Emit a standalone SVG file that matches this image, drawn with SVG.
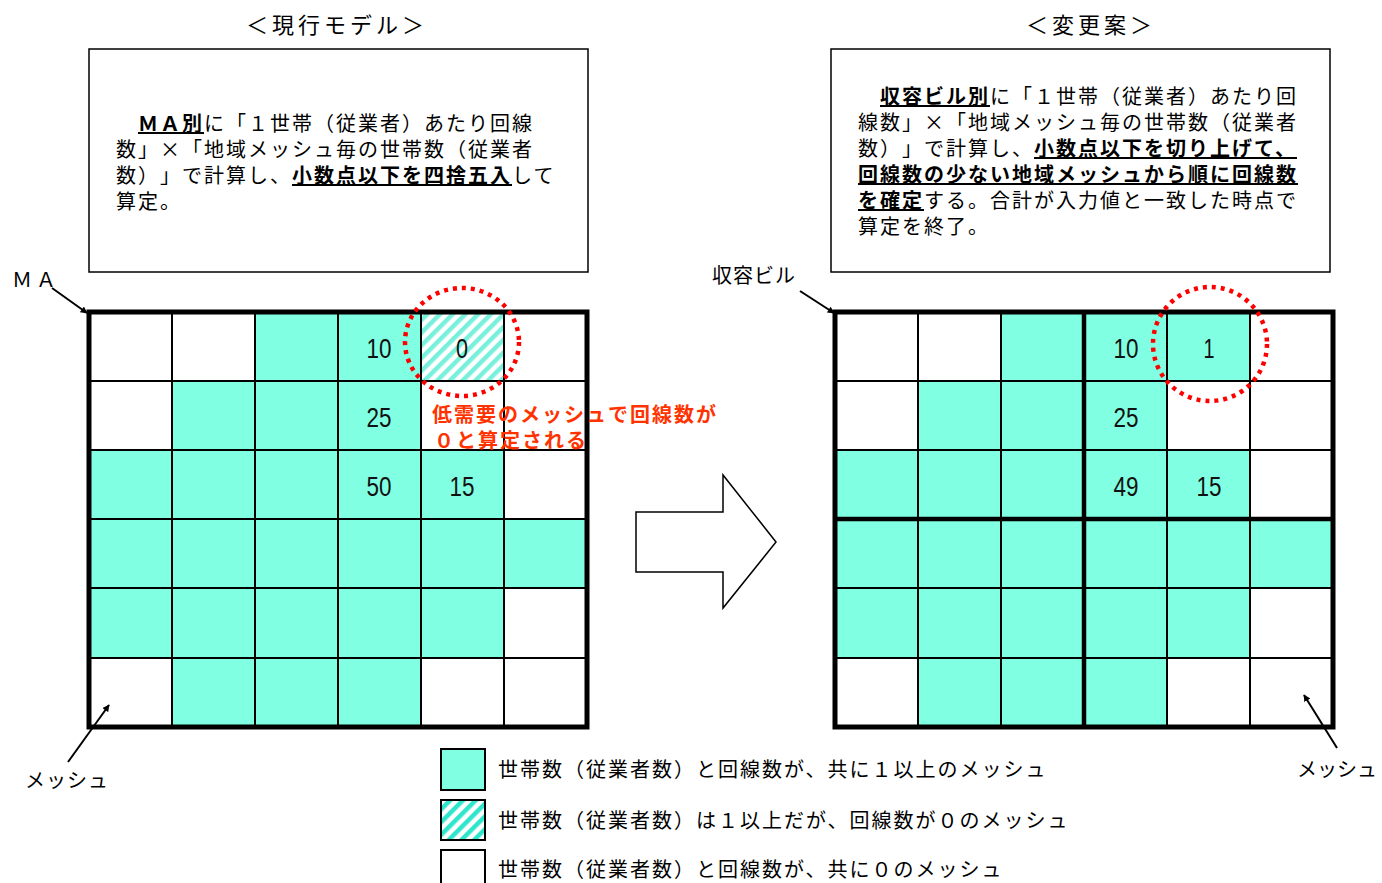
<svg xmlns="http://www.w3.org/2000/svg" width="1382" height="883" viewBox="0 0 1382 883">
<style>
text{text-spacing-trim:space-all}
.jp{font-family:"Noto Sans CJK JP","Noto Sans CJK SC",sans-serif;font-size:20px;letter-spacing:2px;fill:#000}
.tt{font-family:"Noto Sans CJK JP",sans-serif;font-size:22px;letter-spacing:4px;fill:#000}
.b{font-weight:bold;text-decoration:underline}
.red{font-family:"Noto Sans CJK JP",sans-serif;font-size:20px;letter-spacing:2px;font-weight:bold;fill:#FF3300}
.num{font-family:"Liberation Sans",Arial,sans-serif;font-size:27px;fill:#111}
.cy{fill:#80FFE2}
.gl{stroke:#000;stroke-width:2;fill:none}
.gt{stroke:#000;stroke-width:5;fill:none}
.box{fill:#fff;stroke:#000;stroke-width:1.5}
.dot{fill:none;stroke:#FF0000;stroke-width:4.5;stroke-dasharray:4 5}
.ar{stroke:#000;stroke-width:2;fill:none;marker-end:url(#ah)}
</style>
<defs>
<pattern id="hatch" patternUnits="userSpaceOnUse" width="9" height="9" patternTransform="rotate(45)">
<rect width="9" height="9" fill="#fff"/>
<rect width="4.5" height="9" fill="#78F0DC"/>
</pattern>
<pattern id="hatch2" patternUnits="userSpaceOnUse" width="9" height="9" patternTransform="rotate(45)">
<rect width="9" height="9" fill="#fff"/>
<rect width="4.5" height="9" fill="#2FE5CC"/>
</pattern>
<marker id="ah" viewBox="0 0 10 10" refX="9" refY="5" markerWidth="7" markerHeight="7" orient="auto" markerUnits="userSpaceOnUse">
<path d="M0,0 L10,5 L0,10 z" fill="#000"/>
</marker>
</defs>
<rect width="1382" height="883" fill="#fff"/>

<g id="title-left"><text class="tt" x="246" y="33">＜現行モデル＞</text></g>
<g id="title-right"><text class="tt" x="1026" y="33">＜変更案＞</text></g>

<g id="box-left">
<rect class="box" x="89" y="49" width="499" height="223"/>
<text class="jp" x="116" y="131">　<tspan class="b">ＭＡ別</tspan>に「１世帯（従業者）あたり回線</text>
<text class="jp" x="116" y="157">数」×「地域メッシュ毎の世帯数（従業者</text>
<text class="jp" x="116" y="183">数）」で計算し、<tspan class="b">小数点以下を四捨五入</tspan>して</text>
<text class="jp" x="116" y="209">算定。</text>
</g>

<g id="box-right">
<rect class="box" x="831" y="49" width="499" height="223"/>
<text class="jp" x="858" y="104">　<tspan class="b">収容ビル別</tspan>に「１世帯（従業者）あたり回</text>
<text class="jp" x="858" y="130">線数」×「地域メッシュ毎の世帯数（従業者</text>
<text class="jp" x="858" y="156">数）」で計算し、<tspan class="b">小数点以下を切り上げて、</tspan></text>
<text class="jp" x="858" y="182"><tspan class="b">回線数の少ない地域メッシュから順に回線数</tspan></text>
<text class="jp" x="858" y="208"><tspan class="b">を確定</tspan>する。合計が入力値と一致した時点で</text>
<text class="jp" x="858" y="234">算定を終了。</text>
</g>

<g id="grid-left">
<rect class="cy" x="255" y="312" width="166" height="69"/>
<rect fill="url(#hatch)" x="421" y="312" width="83" height="69"/>
<rect class="cy" x="172" y="381" width="249" height="69"/>
<rect class="cy" x="89" y="450" width="415" height="69"/>
<rect class="cy" x="89" y="519" width="498" height="69"/>
<rect class="cy" x="89" y="588" width="415" height="70"/>
<rect class="cy" x="172" y="658" width="249" height="69"/>
<path class="gl" d="M172,312V727M255,312V727M338,312V727M421,312V727M504,312V727M89,381H587M89,450H587M89,519H587M89,588H587M89,658H587"/>
<rect class="gt" x="89" y="312" width="498" height="415"/>
<text class="num" x="379" y="358" text-anchor="middle" textLength="25" lengthAdjust="spacingAndGlyphs">10</text>
<text class="num" x="462" y="358" text-anchor="middle" textLength="12" lengthAdjust="spacingAndGlyphs">0</text>
<text class="num" x="379" y="427" text-anchor="middle" textLength="25" lengthAdjust="spacingAndGlyphs">25</text>
<text class="num" x="379" y="496" text-anchor="middle" textLength="25" lengthAdjust="spacingAndGlyphs">50</text>
<text class="num" x="462" y="496" text-anchor="middle" textLength="25" lengthAdjust="spacingAndGlyphs">15</text>
</g>

<g id="grid-right">
<rect class="cy" x="1001" y="312" width="249" height="69"/>
<rect class="cy" x="918" y="381" width="249" height="69"/>
<rect class="cy" x="835" y="450" width="415" height="69"/>
<rect class="cy" x="835" y="519" width="498" height="69"/>
<rect class="cy" x="835" y="588" width="415" height="70"/>
<rect class="cy" x="918" y="658" width="249" height="69"/>
<path class="gl" d="M918,312V727M1001,312V727M1167,312V727M1250,312V727M835,381H1333M835,450H1333M835,588H1333M835,658H1333"/>
<path class="gt" d="M1084,312V727M835,519H1333" style="stroke-width:4.5"/>
<rect class="gt" x="835" y="312" width="498" height="415"/>
<text class="num" x="1126" y="358" text-anchor="middle" textLength="25" lengthAdjust="spacingAndGlyphs">10</text>
<text class="num" x="1209" y="358" text-anchor="middle" textLength="11" lengthAdjust="spacingAndGlyphs">1</text>
<text class="num" x="1126" y="427" text-anchor="middle" textLength="25" lengthAdjust="spacingAndGlyphs">25</text>
<text class="num" x="1126" y="496" text-anchor="middle" textLength="25" lengthAdjust="spacingAndGlyphs">49</text>
<text class="num" x="1209" y="496" text-anchor="middle" textLength="25" lengthAdjust="spacingAndGlyphs">15</text>
</g>

<g id="highlight-left">
<ellipse class="dot" cx="462" cy="342" rx="57" ry="54"/>
<text class="red" x="432" y="422">低需要のメッシュで回線数が</text>
<text class="red" x="434" y="448">０と算定される</text>
</g>
<g id="highlight-right">
<ellipse class="dot" cx="1210" cy="344" rx="57" ry="57"/>
</g>

<g id="big-arrow">
<path d="M636,512H723V475L776,542L723,608V572H636Z" fill="#fff" stroke="#000" stroke-width="1.5"/>
</g>

<g id="label-ma"><text class="jp" x="12" y="287" style="letter-spacing:4px">ＭＡ</text></g>
<g id="label-building"><text class="jp" x="712" y="283" style="letter-spacing:1px">収容ビル</text></g>
<g id="label-mesh-left"><text class="jp" x="25" y="788" style="letter-spacing:1px">メッシュ</text></g>
<g id="label-mesh-right"><text class="jp" x="1297" y="777" style="letter-spacing:0px">メッシュ</text></g>

<g id="connectors">
<line class="ar" x1="52" y1="288" x2="87" y2="313"/>
<line class="ar" x1="800" y1="291" x2="834" y2="313"/>
<line class="ar" x1="68" y1="762" x2="109" y2="705"/>
<line class="ar" x1="1337" y1="748" x2="1304" y2="695"/>
</g>

<g id="legend">
<rect x="441" y="749" width="44" height="41" fill="#80FFE2" stroke="#000" stroke-width="2"/>
<text class="jp" x="498" y="777">世帯数（従業者数）と回線数が、共に１以上のメッシュ</text>
<rect x="441" y="800" width="44" height="40" fill="url(#hatch2)" stroke="#000" stroke-width="2"/>
<text class="jp" x="498" y="828">世帯数（従業者数）は１以上だが、回線数が０のメッシュ</text>
<rect x="441" y="850" width="44" height="45" fill="#fff" stroke="#000" stroke-width="2"/>
<text class="jp" x="498" y="877">世帯数（従業者数）と回線数が、共に０のメッシュ</text>
</g>
</svg>
